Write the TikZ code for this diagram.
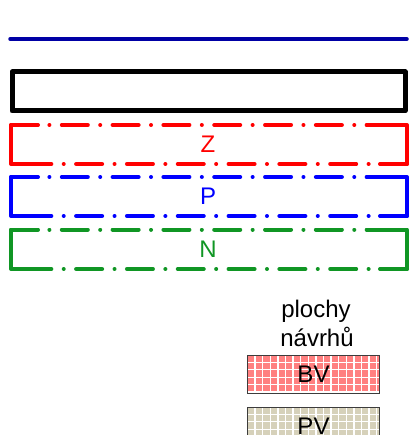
\documentclass[tikz,border=0pt]{standalone}
\usepackage{fontspec}
\setmainfont{Liberation Sans}
\usepackage{tikz}
\definecolor{linenavy}{RGB}{0, 0, 165}
\definecolor{zonered}{RGB}{255, 0, 0}
\definecolor{zoneblue}{RGB}{0, 0, 255}
\definecolor{zonegreen}{RGB}{16, 150, 36}
\definecolor{bvfill}{RGB}{255, 128, 128}
\definecolor{pvfill}{RGB}{214, 209, 186}
\definecolor{boxedge}{RGB}{60, 60, 60}
\tikzset{
  zoneline/.style={line width=4pt, line cap=round, dash pattern=on 26pt off 12.4pt on 0.01pt off 12.4pt},
  zonecorner/.style={line width=4pt, line cap=round, line join=round},
  legendtext/.style={font=\fontsize{24}{29}\selectfont, inner sep=0pt}
}

\begin{document}
\begin{tikzpicture}[x=1pt, y=-1pt]
\useasboundingbox (0,0) rectangle (418,435);
\clip (0,0) rectangle (418,435);

% Top line and plain box
\draw[linenavy, line width=3.5pt, line cap=round] (10,39) -- (407,39);
\draw[line width=5pt, line join=round] (12,72) rectangle (405,111);

% Dash-dot zones Z, P, N
\foreach \col/\ytop/\ybot/\lab in {zonered/125/164/Z, zoneblue/177/216/P, zonegreen/229.5/269/N} {
  \draw[zoneline, \col] (11,\ytop) -- (407,\ytop);
  \draw[zoneline, \col] (407,\ybot) -- (11,\ybot);
  \draw[zonecorner, \col] (38,\ytop) -- (11,\ytop) -- (11,\ybot) -- (50,\ybot);
  \draw[zonecorner, \col] (367,\ytop) -- (407,\ytop) -- (407,\ybot) -- (380,\ybot);
  \node[legendtext, text=\col] (\lab) at (208,{(\ytop+\ybot)/2}) {\lab};
}

% Legend: plochy navrhu
\node[legendtext, anchor=base] (title1) at (316,317) {plochy};
\node[legendtext, anchor=base] (title2) at (317,346) {návrhů};

\fill[bvfill] (247.5,355) rectangle (379,393);
\begin{scope}
  \clip (247.5,355) rectangle (379,393);
  \foreach \i in {1,...,17} \draw[white, line width=1.3pt] (247.5+7.6*\i,355) -- (247.5+7.6*\i,393);
  \foreach \j in {1,...,5} \draw[white, line width=1.3pt] (247.5,355+7.4*\j) -- (379,355+7.4*\j);
\end{scope}
\draw[boxedge, line width=1pt] (247.5,355) rectangle (379,393);
\node[legendtext] (BV) at (313.5,374) {BV};

\fill[pvfill] (247.5,407) rectangle (379,445);
\begin{scope}
  \clip (247.5,407) rectangle (379,445);
  \foreach \i in {1,...,17} \draw[white, line width=1.3pt] (247.5+7.6*\i,407) -- (247.5+7.6*\i,445);
  \foreach \j in {1,...,5} \draw[white, line width=1.3pt] (247.5,407+7.4*\j) -- (379,407+7.4*\j);
\end{scope}
\draw[boxedge, line width=1pt] (247.5,407) rectangle (379,445);
\node[legendtext] (PV) at (313.5,426) {PV};
\end{tikzpicture}
\end{document}
